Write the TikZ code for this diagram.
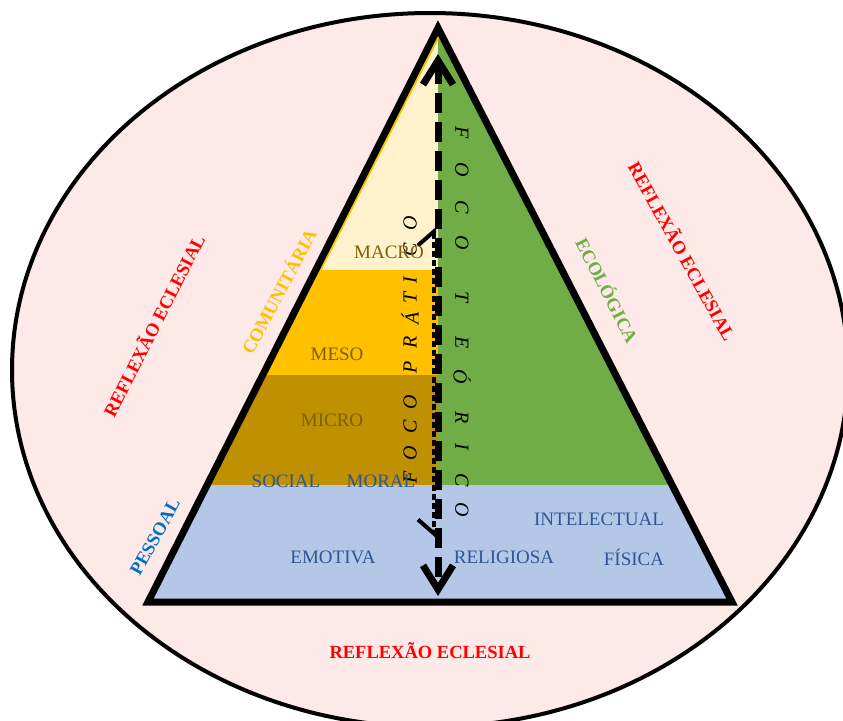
\documentclass[tikz,border=0pt]{standalone}
\usepackage{fontspec}
\setmainfont{Liberation Serif}
\usepackage{tikz}
\usetikzlibrary{arrows.meta}
\definecolor{rosa}{RGB}{253,233,231}
\definecolor{creme}{RGB}{255,242,204}
\definecolor{ouro}{RGB}{255,192,0}
\definecolor{ouroesc}{RGB}{191,144,0}
\definecolor{azulclaro}{RGB}{180,199,231}
\definecolor{verde}{RGB}{112,173,71}
\definecolor{marrom}{RGB}{127,96,0}
\definecolor{azultexto}{RGB}{47,85,151}
\definecolor{azulpessoal}{RGB}{0,112,192}

\begin{document}
\begin{tikzpicture}[x=1pt,y=-1pt,
  rotulo/.style={font=\fontsize{19}{21}\selectfont, inner sep=0pt},
  nivel/.style={rotulo, text=marrom},
  dimensao/.style={rotulo, text=azultexto},
  lado/.style={rotulo, font=\fontsize{18.5}{21}\selectfont\bfseries},
  reflexao/.style={lado, text=red},
  letra/.style={rotulo, font=\fontsize{20}{22}\selectfont\itshape},
  foco/.style={line width=7, dash pattern=on 20pt off 9pt,
    {Straight Barb[length=24pt,width=30pt]}-{Straight Barb[length=24pt,width=30pt]}},
  pratica/.style={line width=4, dash pattern=on 6pt off 3pt,
    {Straight Barb[harpoon,length=14pt,width=32pt]}-{Straight Barb[harpoon,swap,length=14pt,width=32pt]}}]
\useasboundingbox (0,0) rectangle (843,720);
% reflexao eclesial
\draw[fill=rosa, line width=4] (430,370) ellipse [x radius=418, y radius=357];
% piramide
\coordinate (A) at (438,28);
\coordinate (B) at (148,602);
\coordinate (C) at (732,602);
\begin{scope}
\clip (A) -- (B) -- (C) -- cycle;
\fill[creme] (100,10) rectangle (438,270);
\fill[ouro] (100,270) rectangle (438,375);
\fill[ouroesc] (100,375) rectangle (438,485);
\fill[verde] (438,10) rectangle (760,485);
\fill[azulclaro] (100,485) rectangle (760,610);
\draw[ouro, line width=2] (442,30) -- (319.5,272);
\end{scope}
\draw[line width=7, line join=miter] (A) -- (B) -- (C) -- cycle;
% focos
\coordinate (teo1) at (438,54);
\coordinate (teo2) at (438,596);
\coordinate (pra1) at (434,227);
\coordinate (pra2) at (434,538);
\draw[foco] (teo1) -- (teo2);
\draw[pratica] (pra1) -- (pra2);
\foreach \l/\y in {F/133,O/170,C/207,O/243,T/297,E/343,Ó/377,R/418,I/447,C/480,O/510}
  \node[letra, rotate=-90] (teo\y) at (462,\y) {\l};
\foreach \l/\y in {F/477,O/453,C/427,O/402,P/367,R/342,Á/318,T/298,I/280,C/250,O/223}
  \node[letra, rotate=90] (pra\y) at (410,\y) {\l};
% niveis e dimensoes
\node[nivel] (macro) at (389,252) {MACRO};
\node[nivel] (meso) at (337,354) {MESO};
\node[nivel] (micro) at (332,420) {MICRO};
\node[dimensao] (social) at (286,481) {SOCIAL};
\node[dimensao] (moral) at (381,481) {MORAL};
\node[dimensao] (intelectual) at (599,519) {INTELECTUAL};
\node[dimensao] (emotiva) at (333,557) {EMOTIVA};
\node[dimensao] (religiosa) at (504,557) {RELIGIOSA};
\node[dimensao] (fisica) at (634,557) {FÍSICA};
% lados
\node[lado, text=ouro, rotate=62] (comunitaria) at (278,291) {COMUNITÁRIA};
\node[lado, text=azulpessoal, rotate=61] (pessoal) at (155,537) {PESSOAL};
\node[lado, text=verde, rotate=-63] (ecologica) at (608,290) {ECOLÓGICA};
\node[reflexao, rotate=63] (reflexao1) at (153,325) {REFLEXÃO ECLESIAL};
\node[reflexao, rotate=-61] (reflexao2) at (683,251) {REFLEXÃO ECLESIAL};
\node[reflexao] (reflexao3) at (430,651) {REFLEXÃO ECLESIAL};
\end{tikzpicture}
\end{document}
